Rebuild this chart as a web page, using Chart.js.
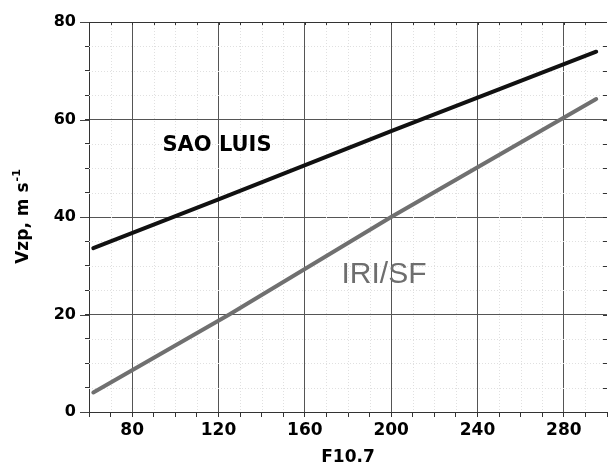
<!DOCTYPE html>
<html>
<head>
<meta charset="utf-8">
<script src="https://cdn.jsdelivr.net/npm/chart.js@4.4.1/dist/chart.umd.min.js"></script>
<style>
  html, body { margin: 0; padding: 0; background: #fff; }
  #wrap { width: 610px; height: 470px; }
</style>
</head>
<body>
<div id="wrap"><canvas id="myChart" width="610" height="470"></canvas></div>
<script>
// data
const f107Sao = [62, 120, 200, 295];
const vzpSao = [33.6, 43.6, 57.6, 73.9];
const f107Iri = [62, 125, 200, 295];
const vzpIri = [4.0, 20.0, 40.0, 64.2];

const xTickLabels = [80, 120, 160, 200, 240, 280];
const yTickLabels = [0, 20, 40, 60, 80];

// curve labels (in data units)
const labelSao = { text: "SAO LUIS", x: 94, y: 53.5 };
const labelIri = { text: "IRI/SF", x: 177, y: 26.4 };

const toPts = (xs, ys) => xs.map((x, i) => ({ x: x, y: ys[i] }));

const fontBold = "'DejaVu Sans', sans-serif";

// faint dotted minor grid, inner ticks on top/right, y title and curve labels
const extras = {
  id: "extras",
  beforeDatasetsDraw(chart) {
    const ctx = chart.ctx;
    const xs = chart.scales.x, ys = chart.scales.y;
    const a = chart.chartArea;
    ctx.save();
    ctx.strokeStyle = "#e0e0e0";
    ctx.lineWidth = 1;
    ctx.setLineDash([1, 2]);
    for (let v = 70; v < 300; v += 10) {
      if (v % 40 === 0) continue;
      const px = Math.round(xs.getPixelForValue(v)) + 0.5;
      ctx.beginPath(); ctx.moveTo(px, a.top); ctx.lineTo(px, a.bottom); ctx.stroke();
    }
    for (let v = 5; v < 80; v += 5) {
      if (v % 20 === 0) continue;
      const py = Math.round(ys.getPixelForValue(v)) + 0.5;
      ctx.beginPath(); ctx.moveTo(a.left, py); ctx.lineTo(a.right, py); ctx.stroke();
    }
    ctx.setLineDash([]);
    ctx.strokeStyle = "#333";
    // top border + inward ticks
    ctx.beginPath(); ctx.moveTo(a.left, a.top + 0.5); ctx.lineTo(a.right, a.top + 0.5); ctx.stroke();
    for (let v = 70; v < 300; v += 10) {
      const px = Math.round(xs.getPixelForValue(v)) + 0.5;
      ctx.beginPath(); ctx.moveTo(px, a.top); ctx.lineTo(px, a.top + 3); ctx.stroke();
    }
    // right inward ticks
    for (let v = 5; v < 80; v += 5) {
      const py = Math.round(ys.getPixelForValue(v)) + 0.5;
      ctx.beginPath(); ctx.moveTo(a.right - 4, py); ctx.lineTo(a.right, py); ctx.stroke();
    }
    // longer outer ticks at labelled y values
    ctx.strokeStyle = "#444";
    yTickLabels.forEach((v) => {
      const py = Math.round(ys.getPixelForValue(v)) + 0.5;
      ctx.beginPath(); ctx.moveTo(a.left - 9, py); ctx.lineTo(a.left, py); ctx.stroke();
    });
    ctx.restore();
  },
  afterDraw(chart) {
    const ctx = chart.ctx;
    const xs = chart.scales.x, ys = chart.scales.y;
    ctx.save();
    // y axis title with superscript
    const main = "Vzp, m s";
    const sup = "-1";
    ctx.font = "bold 17px " + fontBold;
    const w1 = ctx.measureText(main).width;
    ctx.font = "bold 11px " + fontBold;
    const w2 = ctx.measureText(sup).width;
    const cy = (chart.chartArea.top + chart.chartArea.bottom) / 2;
    ctx.translate(28, cy + (w1 + w2) / 2);
    ctx.rotate(-Math.PI / 2);
    ctx.fillStyle = "#000";
    ctx.textBaseline = "alphabetic";
    ctx.textAlign = "left";
    ctx.font = "bold 17px " + fontBold;
    ctx.fillText(main, 0, 0);
    ctx.font = "bold 11px " + fontBold;
    ctx.fillText(sup, w1 + 1, -8);
    ctx.restore();

    ctx.save();
    ctx.textBaseline = "alphabetic";
    ctx.textAlign = "left";
    ctx.fillStyle = "#000";
    ctx.font = "bold 21px " + fontBold;
    ctx.fillText(labelSao.text, xs.getPixelForValue(labelSao.x), ys.getPixelForValue(labelSao.y));
    ctx.fillStyle = "#6e6e6e";
    ctx.font = "30px 'Liberation Sans', Arial, sans-serif";
    ctx.fillText(labelIri.text, xs.getPixelForValue(labelIri.x), ys.getPixelForValue(labelIri.y));
    ctx.restore();
  }
};

const config = {
  type: "scatter",
  data: {
    datasets: [
      {
        label: "SAO LUIS",
        data: toPts(f107Sao, vzpSao),
        showLine: true,
        borderColor: "#111",
        borderWidth: 4,
        borderCapStyle: "round",
        pointRadius: 0,
      },
      {
        label: "IRI/SF",
        data: toPts(f107Iri, vzpIri),
        showLine: true,
        borderColor: "#707070",
        borderWidth: 4,
        borderCapStyle: "round",
        pointRadius: 0,
      },
    ],
  },
  options: {
    responsive: false,
    animation: false,
    layout: { padding: { top: 22, right: 0, left: 0, bottom: 0 } },
    plugins: { legend: { display: false }, tooltip: { enabled: false } },
    scales: {
      x: {
        type: "linear",
        min: 60,
        max: 300,
        afterFit: (s) => { s.height = 58; },
        afterBuildTicks: (s) => {
          const t = [];
          for (let v = 60; v <= 300; v += 10) t.push({ value: v });
          s.ticks = t;
        },
        ticks: {
          autoSkip: false,
          maxRotation: 0,
          padding: 3,
          color: "#000",
          font: { family: fontBold, size: 17, weight: "bold" },
          callback: (v) => (xTickLabels.includes(v) ? String(v) : ""),
        },
        grid: {
          color: (c) => (c.tick && xTickLabels.includes(c.tick.value) ? "#555" : "rgba(0,0,0,0)"),
          tickColor: "#333",
          tickLength: 5,
          lineWidth: 1,
        },
        border: { color: "#333", width: 1 },
        title: {
          display: true,
          text: "F10.7",
          color: "#000",
          font: { family: fontBold, size: 17, weight: "bold" },
          padding: { top: 0, bottom: 2 },
        },
      },
      y: {
        type: "linear",
        min: 0,
        max: 80,
        afterFit: (s) => { s.width = 89; },
        afterBuildTicks: (s) => {
          const t = [];
          for (let v = 0; v <= 80; v += 5) t.push({ value: v });
          s.ticks = t;
        },
        ticks: {
          autoSkip: false,
          padding: 9,
          color: "#000",
          font: { family: fontBold, size: 16, weight: "bold" },
          callback: (v) => (yTickLabels.includes(v) ? String(v) : ""),
        },
        grid: {
          color: (c) => (c.tick && [20, 40, 60].includes(c.tick.value) ? "#555" : "rgba(0,0,0,0)"),
          tickColor: "#333",
          tickLength: 4,
          lineWidth: 1,
        },
        border: { color: "#333", width: 1 },
      },
    },
  },
  plugins: [extras],
};

window.myChart = new Chart(document.getElementById("myChart").getContext("2d"), config);
</script>
</body>
</html>
